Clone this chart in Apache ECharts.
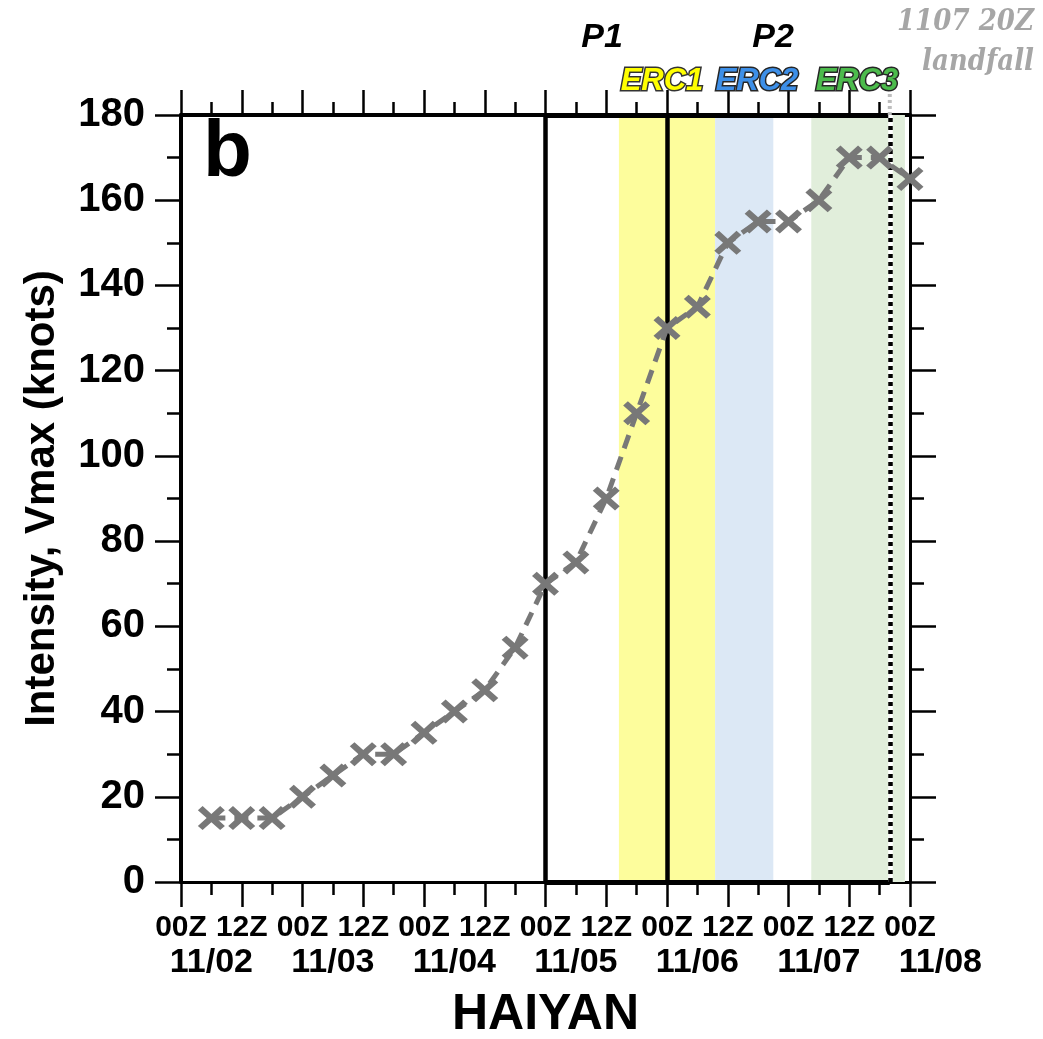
<!DOCTYPE html>
<html>
<head>
<meta charset="utf-8">
<script src="https://cdn.jsdelivr.net/npm/echarts@6/dist/echarts.min.js"></script>
<style>
  html, body { margin: 0; padding: 0; background: #fff; }
  #chart { width: 1043px; height: 1039px; }
</style>
</head>
<body>
<div id="chart"></div>
<script>
// Haiyan best-track intensity, 6-hourly, hours since 00Z 11/02
const hours = [6, 12, 18, 24, 30, 36, 42, 48, 54, 60, 66, 72, 78, 84, 90, 96, 102, 108, 114, 120, 126, 132, 138, 144];
const vmax  = [15, 15, 15, 20, 25, 30, 30, 35, 40, 45, 55, 70, 75, 90, 110, 130, 135, 150, 155, 155, 160, 170, 170, 165];

// day labels, centred on 06Z of each day
const dayLabels = ['11/02', '11/03', '11/04', '11/05', '11/06', '11/07', '11/08'];
const yTicks = [0, 20, 40, 60, 80, 100, 120, 140, 160, 180];

// periods and eyewall replacement cycles (hours since 00Z 11/02)
const periodBounds = [72, 96];
const landfallHour = 140;
const erc1 = [86.5, 105.5];
const erc2 = [105.5, 117];
const erc3 = [124.5, 143];

const FONT = '"Liberation Sans", Helvetica, Arial, sans-serif';
const toPairs = (xs, ys) => xs.map((x, i) => [x, ys[i]]);
const xMark = 'path://M0,3.5 L3.5,0 L10,6.5 L16.5,0 L20,3.5 L13.5,10 L20,16.5 L16.5,20 L10,13.5 L3.5,20 L0,16.5 L6.5,10 Z';

const chart = echarts.init(document.getElementById('chart'));

const axisLine = w => ({ show: true, onZero: false, lineStyle: { color: '#000', width: w } });
const majorTick = len => ({ show: true, inside: false, length: len, lineStyle: { color: '#000', width: 2.5 } });
const minorTick = len => ({ show: true, splitNumber: 2, length: len, lineStyle: { color: '#000', width: 2.5 } });

// the helper grid shares the main x scale (5.0625 px per hour) and y scale,
// but reaches to 06Z 11/08 on the right and 6 kt above the frame on top
chart.setOption({
  animation: false,
  backgroundColor: '#fff',
  grid: [
    { left: 181, right: 133, top: 115, bottom: 157, outerBoundsMode: 'none', containLabel: false },
    { left: 181, right: 102.6, top: 89.4, bottom: 157, outerBoundsMode: 'none', containLabel: false }
  ],
  xAxis: [
    {
      type: 'value', gridIndex: 0, position: 'bottom', min: 0, max: 144, interval: 12,
      axisLine: axisLine(3), axisTick: majorTick(25), minorTick: minorTick(13),
      splitLine: { show: false }, minorSplitLine: { show: false },
      axisLabel: {
        margin: 31, color: '#000', fontFamily: FONT, fontWeight: 'bold', fontSize: 30,
        formatter: v => (v % 24 === 0 ? '00Z' : '12Z')
      },
      name: 'HAIYAN', nameLocation: 'middle', nameGap: 108,
      nameTextStyle: { color: '#000', fontFamily: FONT, fontWeight: 'bold', fontSize: 50 }
    },
    {
      type: 'value', gridIndex: 0, position: 'top', min: 0, max: 144, interval: 12,
      axisLine: axisLine(4), axisTick: majorTick(25), minorTick: minorTick(13),
      splitLine: { show: false },
      axisLabel: { show: false }
    },
    {
      type: 'value', gridIndex: 1, position: 'bottom', min: 0, max: 150, interval: 6,
      axisLine: { show: false, onZero: false }, axisTick: { show: false }, splitLine: { show: false },
      axisLabel: {
        margin: 64, color: '#000', fontFamily: FONT, fontWeight: 'bold', fontSize: 34,
        showMinLabel: false,
        formatter: v => (v % 24 === 6 ? dayLabels[(v - 6) / 24] : '')
      }
    }
  ],
  yAxis: [
    {
      type: 'value', gridIndex: 0, position: 'left', min: yTicks[0], max: yTicks[yTicks.length - 1], interval: 20,
      axisLine: axisLine(4), axisTick: majorTick(26), minorTick: minorTick(14),
      splitLine: { show: false },
      axisLabel: { margin: 36, color: '#000', fontFamily: FONT, fontWeight: 'bold', fontSize: 40 },
      name: 'Intensity, Vmax (knots)', nameLocation: 'middle', nameGap: 118,
      nameTextStyle: { color: '#000', fontFamily: FONT, fontWeight: 'bold', fontSize: 42 }
    },
    {
      type: 'value', gridIndex: 0, position: 'right', min: 0, max: 180, interval: 20,
      axisLine: axisLine(3), axisTick: majorTick(26), minorTick: minorTick(14),
      splitLine: { show: false },
      axisLabel: { show: false }
    },
    {
      type: 'value', gridIndex: 1, min: 0, max: 186, show: false
    }
  ],
  series: [
    {
      // background bands and period boxes
      type: 'line', xAxisIndex: 0, yAxisIndex: 0, data: [], z: 1, clip: false,
      silent: true,
      markArea: {
        silent: true, z: 1,
        data: [
          [{ xAxis: erc1[0], itemStyle: { color: '#fdfd9c' } }, { xAxis: erc1[1] }],
          [{ xAxis: erc2[0], itemStyle: { color: '#dce8f5' } }, { xAxis: erc2[1] }],
          [{ xAxis: erc3[0], itemStyle: { color: '#e1eedb' } }, { xAxis: erc3[1] }]
        ]
      },
      markLine: {
        silent: true, z: 2, symbol: 'none', label: { show: false },
        data: [
          [{ coord: [periodBounds[0], 0], lineStyle: { color: '#000', width: 4.5, type: 'solid' } }, { coord: [periodBounds[0], 180] }],
          [{ coord: [periodBounds[1], 0], lineStyle: { color: '#000', width: 4.5, type: 'solid' } }, { coord: [periodBounds[1], 180] }],
          [{ coord: [periodBounds[0], 180], lineStyle: { color: '#000', width: 5, type: 'solid' } }, { coord: [landfallHour, 180] }],
          [{ coord: [periodBounds[0], 0], lineStyle: { color: '#000', width: 5, type: 'solid' } }, { coord: [landfallHour, 0] }],
          [{ coord: [landfallHour, 0], lineStyle: { color: '#fff', width: 4.5, type: 'solid' } }, { coord: [landfallHour, 180] }],
          [{ coord: [landfallHour, 0], lineStyle: { color: '#000', width: 4.5, type: [4, 4] } }, { coord: [landfallHour, 180] }]
        ]
      }
    },
    {
      // landfall marker continuing above the frame
      type: 'line', xAxisIndex: 2, yAxisIndex: 2, z: 2, silent: true, clip: false,
      data: [[landfallHour, 180], [landfallHour, 186]],
      symbol: 'none',
      lineStyle: { color: '#bdbdbd', width: 4, type: [3, 3] }
    },
    {
      name: 'Vmax', type: 'line', xAxisIndex: 0, yAxisIndex: 0, z: 5, clip: false,
      data: toPairs(hours, vmax),
      symbol: xMark, symbolSize: [27, 24], showSymbol: true,
      itemStyle: { color: '#787878' },
      lineStyle: { color: '#787878', width: 5, type: [14, 9] }
    }
  ],
  graphic: [
    { type: 'text', left: 203, top: 114, z: 10,
      style: { text: 'b', font: 'bold 80px ' + FONT, fill: '#000' } },
    { type: 'text', x: 602, y: 38, z: 10,
      style: { text: 'P1', font: 'italic bold 34px ' + FONT, fill: '#000', align: 'center', verticalAlign: 'middle' } },
    { type: 'text', x: 773, y: 38, z: 10,
      style: { text: 'P2', font: 'italic bold 34px ' + FONT, fill: '#000', align: 'center', verticalAlign: 'middle' } },
    { type: 'text', x: 662, y: 81, z: 10,
      style: { text: 'ERC1', font: 'italic bold 31px ' + FONT, fill: '#ffff00', stroke: '#333', lineWidth: 3, strokeFirst: true, align: 'center', verticalAlign: 'middle' } },
    { type: 'text', x: 757, y: 81, z: 10,
      style: { text: 'ERC2', font: 'italic bold 31px ' + FONT, fill: '#3d8fe8', stroke: '#262626', lineWidth: 3, strokeFirst: true, align: 'center', verticalAlign: 'middle' } },
    { type: 'text', x: 857, y: 81, z: 10,
      style: { text: 'ERC3', font: 'italic bold 31px ' + FONT, fill: '#4cbb4c', stroke: '#262626', lineWidth: 3, strokeFirst: true, align: 'center', verticalAlign: 'middle' } },
    { type: 'text', x: 1034, y: 22, scaleX: 0.87, z: 10,
      style: { text: '1107 20Z', font: 'italic bold 30px "DejaVu Serif", serif', fill: '#a6a6a6', align: 'right', verticalAlign: 'middle' } },
    { type: 'text', x: 1034, y: 62, scaleX: 0.87, z: 10,
      style: { text: 'landfall', font: 'italic bold 30px "DejaVu Serif", serif', fill: '#a6a6a6', align: 'right', verticalAlign: 'middle' } }
  ]
});
</script>
</body>
</html>
